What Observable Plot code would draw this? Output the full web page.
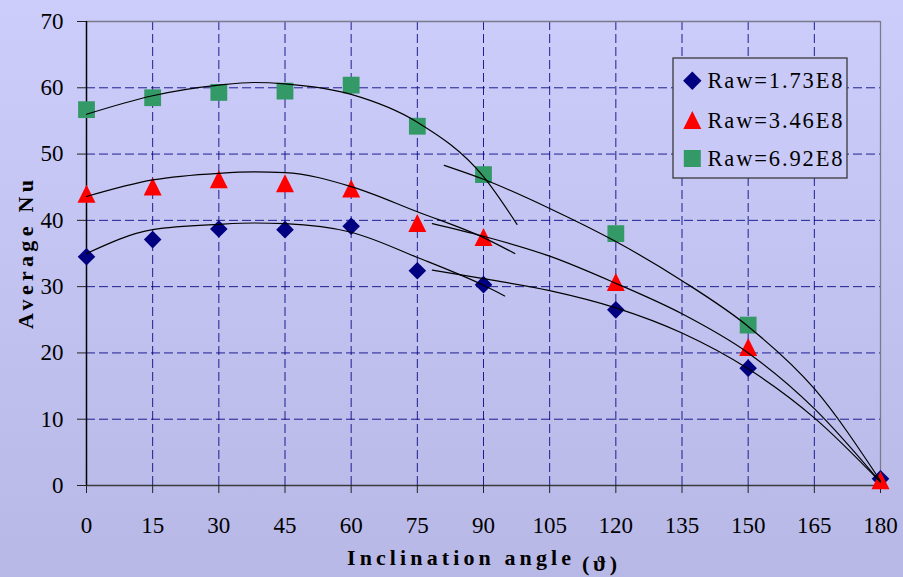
<!DOCTYPE html>
<html><head><meta charset="utf-8">
<script src="https://cdn.jsdelivr.net/npm/d3@7"></script>
<script src="https://cdn.jsdelivr.net/npm/@observablehq/plot@0.6"></script>
<style>
html,body{margin:0;padding:0;}
body{width:903px;height:577px;background:linear-gradient(to bottom,#cdcdfb,#b8b8e7);overflow:hidden;}
#chart svg{display:block;}
</style></head><body><div id="chart"></div>
<script>
// ---- data ----
const angles = [0, 15, 30, 45, 60, 75, 90, 120, 150, 180];
const nuLow  = [34.5, 37.1, 38.7, 38.6, 39.1, 32.4, 30.3, 26.5, 17.7, 1.0];
const nuMid  = [44.0, 45.1, 46.2, 45.6, 44.8, 39.6, 37.5, 30.7, 20.9, 0.8];
const nuHigh = [56.7, 58.5, 59.3, 59.5, 60.4, 54.2, 46.9, 38.0, 24.2, null];
const seriesNames = ["Raw=1.73E8", "Raw=3.46E8", "Raw=6.92E8"];
const xTicks = [0, 15, 30, 45, 60, 75, 90, 105, 120, 135, 150, 165, 180];
const yTicks = [0, 10, 20, 30, 40, 50, 60, 70];

// trend lines (first part, 0..~97 deg)
const trendA_x    = [0, 15, 30, 38, 45, 60, 75, 90];
const trendA_low  = [35.0, 38.6, 39.4, 39.6, 39.5, 38.2, 34.4, 30.2];
const trendA_mid  = [43.6, 46.1, 47.1, 47.3, 47.2, 45.1, 41.3, 37.4];
const trendA_high = [56.0, 58.8, 60.4, 60.8, 60.6, 59.0, 54.8, 46.6];
const trendA_endX = [94.8, 97.1, 97.6];
const trendA_endY = [28.6, 35.0, 39.4];
// trend lines (second part, ~80..180 deg)
const trendB_x    = [90, 105, 120, 135, 150, 165, 180];
const trendB_low  = [31.2, 29.4, 26.8, 23.0, 17.6, 10.2, 0.5];
const trendB_mid  = [37.6, 34.6, 30.5, 25.9, 20.0, 11.6, 0.5];
const trendB_high = [46.2, 41.8, 36.8, 30.9, 24.0, 14.6, 0.7];
const trendB_startX = [78.4, 78.4, 81.1];
const trendB_startY = [32.5, 39.5, 48.3];

const colors = ["#000080", "#ff0000", "#339966"];
const ff = "Liberation Serif";

// bbox-centred custom symbols (r = half width)
const diamondSym = {draw(ctx, size){ const r = Math.sqrt(size/Math.PI); ctx.moveTo(0,-r); ctx.lineTo(r,0); ctx.lineTo(0,r); ctx.lineTo(-r,0); ctx.closePath(); }};
const triSym = {draw(ctx, size){ const r = Math.sqrt(size/Math.PI); ctx.moveTo(0,-r); ctx.lineTo(r,r); ctx.lineTo(-r,r); ctx.closePath(); }};
const squareSym = {draw(ctx, size){ const r = Math.sqrt(size/Math.PI); ctx.rect(-r,-r,2*r,2*r); }};
const symbols = [diamondSym, triSym, squareSym];
const radii = [8.8, 9, 8.4];

const seriesVals = [nuLow, nuMid, nuHigh];
const pts = seriesVals.map((vals) => angles.map((a, i) => ({angle: a, nu: vals[i]})).filter(d => d.nu != null));

const trendA = [trendA_low, trendA_mid, trendA_high].map((vals, k) =>
  trendA_x.map((a, i) => ({angle: a, nu: vals[i]})).concat([{angle: trendA_endX[k], nu: trendA_endY[k]}]));
const trendB = [trendB_low, trendB_mid, trendB_high].map((vals, k) =>
  [{angle: trendB_startX[k], nu: trendB_startY[k]}].concat(trendB_x.map((a, i) => ({angle: a, nu: vals[i]}))));

const gridStyle = {stroke: "#000080", strokeOpacity: 0.85, strokeWidth: 1, strokeDasharray: "9,4"};

const plot = Plot.plot({
  width: 903, height: 577,
  marginLeft: 86, marginRight: 23, marginTop: 21, marginBottom: 92,
  style: "background: transparent; font-family: 'Liberation Serif', serif; font-size: 23px; color: black;",
  x: {domain: [0, 180], label: null},
  y: {domain: [0, 70], label: null},
  marks: [
    Plot.gridX(xTicks.filter(d => d > 0 && d < 180), gridStyle),
    Plot.gridY(yTicks.filter(d => d > 0 && d < 70), gridStyle),
    Plot.ruleY([70], {stroke: "#7a7a8a", strokeWidth: 1.3}),
    Plot.ruleX([180], {stroke: "#7a7a8a", strokeWidth: 1.3}),
    Plot.ruleY([0], {stroke: "#3a3a3a", strokeWidth: 1.5}),
    Plot.axisX(xTicks, {tickSize: 8, tickPadding: 23, label: null, stroke: "#222", fontSize: 23}),
    Plot.axisY(yTicks, {tickSize: 9, tickPadding: 14, label: null, stroke: "#222", fontSize: 23}),
    Plot.ruleX([0], {stroke: "black", strokeWidth: 1.5}),
    ...pts.map((p, k) => Plot.dot(p, {x: "angle", y: "nu", symbol: symbols[k], r: radii[k], fill: colors[k], stroke: "none"})),
    ...trendA.map(t => Plot.line(t, {x: "angle", y: "nu", curve: "monotone-x", stroke: "black", strokeWidth: 1.2})),
    ...trendB.map(t => Plot.line(t, {x: "angle", y: "nu", curve: "monotone-x", stroke: "black", strokeWidth: 1.2}))
  ]
});

const svg = d3.select(plot);
svg.selectAll("text").style("font-family", ff);
// axis titles
svg.append("text").attr("transform", "translate(33,254.5) rotate(-90)")
  .attr("text-anchor", "middle").style("font-family", ff).attr("font-weight", "bold")
  .attr("font-size", 22).attr("textLength", 149).attr("lengthAdjust", "spacing")
  .attr("fill", "black").text("Average Nu");
svg.append("text").attr("x", 347).attr("y", 565).attr("text-anchor", "start")
  .style("font-family", ff).attr("font-weight", "bold").attr("font-size", 22)
  .attr("textLength", 224).attr("lengthAdjust", "spacing").attr("fill", "black").text("Inclination angle");
svg.append("text").attr("x", 582).attr("y", 571).attr("text-anchor", "start")
  .style("font-family", ff).attr("font-weight", "bold").attr("font-size", 22)
  .attr("textLength", 35).attr("lengthAdjust", "spacing").attr("fill", "black").text("(\u03D1)");

// legend
const lg = svg.append("g");
lg.append("rect").attr("x", 673).attr("y", 58).attr("width", 174).attr("height", 120)
  .attr("fill", "#c9c9f7").attr("stroke", "#3a3a3a").attr("stroke-width", 1.3);
const rowY = [80.7, 120, 158.5];
const legR = [9.2, 9, 8.5];
seriesNames.forEach((name, k) => {
  lg.append("path").attr("transform", `translate(692.3,${rowY[k]})`)
    .attr("d", d3.symbol(symbols[k], Math.PI * legR[k] * legR[k])()).attr("fill", colors[k]);
  lg.append("text").attr("x", 707.5).attr("y", rowY[k] + 7.5).attr("text-anchor", "start")
    .style("font-family", ff).attr("font-size", 22.5).attr("textLength", 135).attr("lengthAdjust", "spacing")
    .attr("fill", "black").text(name);
});

document.getElementById("chart").appendChild(plot);
</script>
</body></html>
